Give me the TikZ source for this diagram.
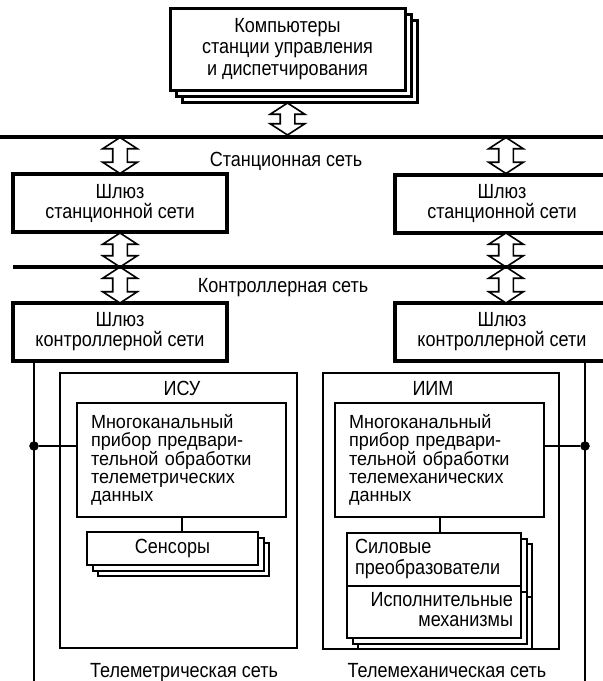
\documentclass[tikz,border=0pt]{standalone}
\usepackage{fontspec}
\setmainfont{Liberation Sans}[FakeStretch=0.88]
\newfontfamily\blockfont{Liberation Sans}[FakeStretch=0.95]
\usetikzlibrary{shapes.arrows,shapes.multipart,shadows,calc}

\begin{document}
\begin{tikzpicture}[x=1pt,y=-1pt,font=\fontsize{20.5}{20}\selectfont]
    % `gateway' is the thick box of a network gateway.
    % `unit' is the thin frame of a subsystem, `block' the boxes inside it.
    % `dblarrow' is the hollow two-way arrow onto a network line.
    \tikzstyle{topbox} = [draw,fill=white,line width=3pt,minimum width=235pt,minimum height=82pt,align=center,font=\fontsize{20.5}{21.7}\selectfont,
      double copy shadow={shadow xshift=6pt,shadow yshift=-6pt,draw,fill=white}]
    \tikzstyle{gateway} = [draw,fill=white,line width=4pt,minimum width=214pt,minimum height=58pt,align=center]
    \tikzstyle{unit} = [draw,line width=2pt]
    \tikzstyle{block} = [draw,fill=white,line width=2pt,align=left,text width=181pt,inner xsep=14pt,minimum height=114pt,font=\blockfont\fontsize{19}{18}\selectfont]
    \tikzstyle{stack} = [draw,fill=white,line width=2pt,
      double copy shadow={shadow xshift=5.5pt,shadow yshift=-5.5pt,draw,fill=white}]
    \tikzstyle{dblarrow} = [draw,fill=white,line width=1.6pt,shape=double arrow,rotate=90,double arrow head extend=10pt,double arrow tip angle=114,inner xsep=0pt,inner ysep=6.5pt,minimum width=0pt]
    \tikzstyle{net} = [line width=3.5pt]
    \tikzstyle{wire} = [line width=2pt]
    \tikzstyle{dot} = [draw,fill,shape=circle,minimum size=9pt,inner sep=0pt]
    %
    \useasboundingbox (0,0) rectangle (603,681);
    \coordinate (sL) at (0,137);
    \coordinate (sR) at (603,137);
    \coordinate (cL) at (13,267);
    \coordinate (cR) at (603,267);
    \coordinate (bL) at (34,681);
    \coordinate (bR) at (585,681);

    \node[topbox] (comp) at (287.5,49) {Компьютеры\\станции управления\\и диспетчирования};
    \node[gateway] (gwS1) at (120,203) {Шлюз\\станционной сети};
    \node[gateway] (gwS2) at (502,203.5) {Шлюз\\станционной сети};
    \node[gateway] (gwC1) at (120,332) {Шлюз\\контроллерной сети};
    \node[gateway] (gwC2) at (502,332) {Шлюз\\контроллерной сети};

    \node[anchor=base] (netS) at (286,166) {Станционная сеть};
    \node[anchor=base] (netC) at (283,292) {Контроллерная сеть};

    % two-way arrows between boxes and network lines
    \node[dblarrow,minimum height=32pt] (arrT) at (287.5,119) {};
    \node[dblarrow,minimum height=36pt] (arrS1) at (120,155.5) {};
    \node[dblarrow,minimum height=36pt] (arrS2) at (506,155.5) {};
    \node[dblarrow,minimum height=34pt] (arrG1) at (120,250) {};
    \node[dblarrow,minimum height=34pt] (arrG2) at (506,250) {};
    \node[dblarrow,minimum height=36pt] (arrC1) at (120,285) {};
    \node[dblarrow,minimum height=36pt] (arrC2) at (506,285) {};

    \draw[net] (sL) -- (sR);
    \draw[net] (cL) -- (cR);

    % subsystems
    \node[unit,minimum width=237pt,minimum height=275pt] (isu) at (178.5,510.5) {};
    \node[anchor=base] (isuT) at (182,395) {ИСУ};
    \node[unit,minimum width=236pt,minimum height=276pt] (iim) at (441,511) {};
    \node[anchor=base] (iimT) at (433,395) {ИИМ};

    \node[block] (prL) at (181.5,460) {Многоканальный\\прибор предвари-\\тельной обработки\\телеметрических\\данных};
    \node[block] (prR) at (439.5,460) {Многоканальный\\прибор предвари-\\тельной обработки\\телемеханических\\данных};

    \node[stack,minimum width=171pt,minimum height=33pt] (sens) at (172.5,548.5) {Сенсоры};
    \node[stack,rectangle split,rectangle split parts=2,rectangle split part align={left,right},
      minimum width=174pt,inner xsep=8pt,inner ysep=5pt,anchor=north] (exe) at (434,532)
      {\begin{tabular}{@{}l@{}}Силовые\\преобразователи\end{tabular}
       \nodepart{two}\begin{tabular}{@{}r@{}}Исполнительные\\механизмы\end{tabular}};

    % bus lines of the two field networks
    \node[dot] (dL) at (34,446) {};
    \node[dot] (dR) at (585,446) {};
    \draw[wire] (gwC1.south -| bL) -- (bL);
    \draw[wire] (gwC2.south -| bR) -- (bR);
    \draw[wire] (dL) -- (dL -| prL.west);
    \draw[wire] (dR) -- (dR -| prR.east);
    \draw[wire] (prL.south) -- (prL.south |- sens.north);
    \draw[wire] (prR.south) -- (prR.south |- exe.north);

    \node[anchor=base] (telM) at (184,677) {Телеметрическая сеть};
    \node[anchor=base] (telH) at (447,677) {Телемеханическая сеть};
\end{tikzpicture}
\end{document}
